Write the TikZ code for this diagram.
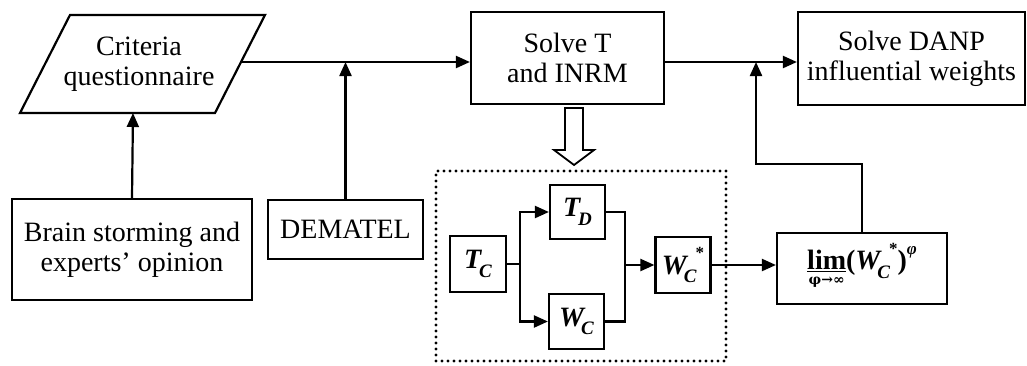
\documentclass[tikz,border=0pt]{standalone}
\usepackage{fontspec}
\setmainfont{Liberation Serif}
\newfontfamily\symfont{DejaVu Serif}
\usetikzlibrary{arrows.meta}
\newcommand\bi[1]{{\bfseries\itshape #1}}
\newcommand\sbs[1]{\raisebox{-0.3em}{\fontsize{19}{19}\selectfont\bfseries\itshape #1}}
\newcommand\astr{\raisebox{0.55em}{\fontsize{17}{17}\selectfont\bfseries *}}
\begin{document}
\begin{tikzpicture}[x=1pt,y=-1pt,
  every node/.style={font=\fontsize{28}{30}\selectfont, align=center, inner sep=0pt},
  box/.style={draw, line width=2.2pt},
  ln/.style={line width=2.2pt},
  arr/.style={ln, -{Triangle[length=14pt,width=12pt]}},
  dotbox/.style={draw, line width=3.2pt, dash pattern=on 0pt off 6pt, line cap=round}
]
\useasboundingbox (0,0) rectangle (1027,365);

% parallelogram
\coordinate (p1) at (70,15);
\coordinate (p2) at (265,15);
\coordinate (p3) at (215,113);
\coordinate (p4) at (20,113);
\draw[ln, line join=miter] (p1) -- (p2) -- (p3) -- (p4) -- cycle;
\node (crit) at (139,64) {Criteria\\questionnaire};
\coordinate (cr) at (241,62);
\coordinate (cb) at (133,113);

\node[box, minimum width=240pt, minimum height=101pt] (brain) at (132,249.5) {Brain storming and\\experts’ opinion};
\node[box, minimum width=155pt, minimum height=59pt] (dem) at (345.5,229.5) {DEMATEL};
\node[box, minimum width=193pt, minimum height=92pt] (solve) at (567.5,58) {Solve T\\and INRM};
\node[box, minimum width=227pt, minimum height=93pt] (danp) at (911.5,58.5) {Solve DANP\\influential weights};

% dotted group
\node[dotbox, minimum width=290pt, minimum height=190pt] (grp) at (581,266) {};

\node[box, minimum width=56pt, minimum height=56pt] (tc) at (478,264) {\bi{T}\kern-2pt\sbs{C}};
\node[box, minimum width=55pt, minimum height=54pt] (td) at (577.5,212) {\bi{T}\kern-2pt\sbs{D}};
\node[box, minimum width=55pt, minimum height=55pt] (wc) at (576.5,321.5) {\bi{W}\kern-3pt\sbs{C}};
\node[box, minimum width=55pt, minimum height=56pt] (wcs) at (683,265) {\bi{W}\kern-3pt\sbs{C}\kern-1pt\astr};
\node[box, minimum width=170pt, minimum height=71pt] (lim) at (862,268.5)
  {{\bfseries\begin{tabular}[t]{@{}c@{}}\underline{lim}\\[-15pt]{\symfont\bfseries\fontsize{14}{14}\selectfont φ→∞}\end{tabular}(\bi{W}\kern-3pt\sbs{C}\kern-1pt\astr)\raisebox{0.55em}{\fontsize{17}{17}\selectfont\bfseries\itshape φ}}};

% hollow arrow
\draw[ln, line width=1.8pt, fill=white, line join=miter] (565,108) -- (583,108) -- (583,150) -- (594,150) -- (574,165) -- (554,150) -- (565,150) -- cycle;

% connectors
\draw[arr] (brain.north) -- (cb);
\draw[arr] (cr) -- (cr -| solve.west);
\draw[arr] (dem.north) -- (dem.north |- cr);
\draw[arr] (solve.east |- cr) -- (cr -| danp.west);

\coordinate (j1) at (862,164);
\coordinate (j2) at (756,164);
\draw[arr] (lim.north) -- (j1) -- (j2) -- (j2 |- cr);

\coordinate (s1) at (520,264);
\draw[ln] (tc.east) -- (s1);
\draw[arr] (s1) |- (td.west);
\draw[arr] (s1) |- (wc.west);
\coordinate (m1) at (625,265);
\draw[ln] (td.east) -| (m1);
\draw[ln] (wc.east) -| (m1);
\draw[arr] (m1) -- (m1 -| wcs.west);
\draw[arr] (wcs.east) -- (wcs.east -| lim.west);
\end{tikzpicture}
\end{document}
